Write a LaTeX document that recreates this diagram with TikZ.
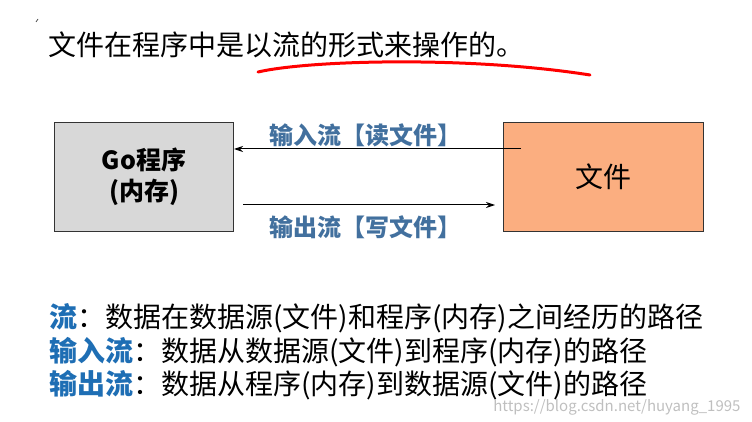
\documentclass[tikz,border=0pt]{standalone}
\usepackage{fontspec}
\setmainfont{Noto Sans CJK SC}
\usepackage{xcolor}
\usetikzlibrary{calc,arrows.meta}

\definecolor{memgray}{RGB}{216,216,216}
\definecolor{fileorange}{RGB}{251,174,128}
\definecolor{flowblue}{RGB}{30,110,180}
\definecolor{lblblue}{RGB}{66,112,158}

\tikzset{
  membox/.style={draw=black!80, line width=1pt, fill=memgray,
    minimum width=179pt, minimum height=109pt, inner sep=0pt},
  filebox/.style={draw=black!80, line width=1pt, fill=fileorange,
    minimum width=200pt, minimum height=109pt, inner sep=0pt},
  flowlbl/.style={text=lblblue, font=\bfseries\fontsize{24}{26}\selectfont},
  bodyline/.style={anchor=west, inner sep=0pt, font=\fontsize{28}{30}\selectfont},
}

\begin{document}
\begin{tikzpicture}[>={Stealth[length=9pt,width=6pt]},x=1pt,y=-1pt]

    \useasboundingbox (0,0) rectangle (752,422);

    % Heading and its red underline
    \node[bodyline] (title) at (48,45) {文件在程序中是以流的形式来操作的。};
    \draw[red, line width=3pt, line cap=round]
      (258,72) .. controls (310,60) and (470,56) .. (590,75);

    % small stray mark
    \draw[black!70, line width=0.8pt] (38,19) -- (36,22);

    % The two boxes
    \node[membox, align=center, font=\bfseries\fontsize{25}{31}\selectfont]
      (prog) at (144,177) {Go程序\\(内存)};
    \node[filebox, font=\fontsize{28}{30}\selectfont]
      (file) at (603,177) {文件};

    % Input stream (read file)
    \coordinate (rdstart) at (521,149);
    \draw[line width=1pt,->] (rdstart) -- (rdstart -| prog.east);
    \node[flowlbl] (rdlbl) at (365,135) {输入流【读文件】};

    % Output stream (write file)
    \coordinate (wrstart) at (243,205);
    \coordinate (wrend)   at (495,205);
    \draw[line width=1pt,->] (wrstart) -- (wrend);
    \node[flowlbl] (wrlbl) at (365,227) {输出流【写文件】};

    % Definitions
    \node[bodyline] (def1) at (49,318)
      {{\color{flowblue}\bfseries 流}：数据在数据源(文件)和程序(内存)之间经历的路径};
    \node[bodyline] (def2) at (49,352)
      {{\color{flowblue}\bfseries 输入流}：数据从数据源(文件)到程序(内存)的路径};
    \node[bodyline] (def3) at (49,385)
      {{\color{flowblue}\bfseries 输出流}：数据从程序(内存)到数据源(文件)的路径};

    % watermark
    \node[anchor=east, text=black!25, font=\fontsize{15}{16}\selectfont]
      (mark) at (744,407) {https://blog.csdn.net/huyang\_1995};

\end{tikzpicture}
\end{document}
